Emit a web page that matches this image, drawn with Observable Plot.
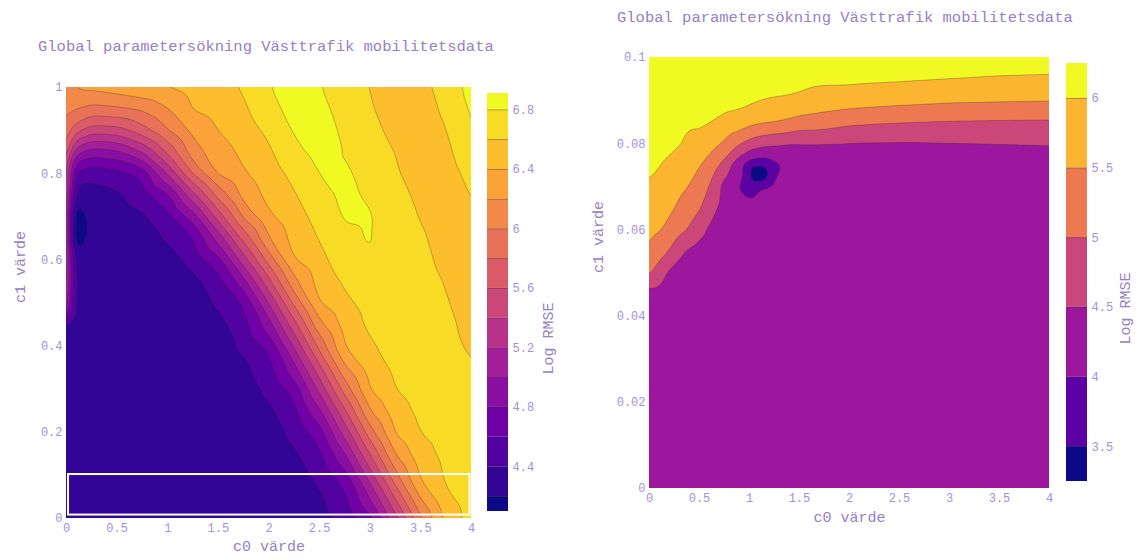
<!DOCTYPE html>
<html>
<head>
<meta charset="utf-8">
<script src="https://cdn.jsdelivr.net/npm/d3@7"></script>
<script src="https://cdn.jsdelivr.net/npm/@observablehq/plot@0.6"></script>
<style>
  body { margin: 0; background: #ffffff; }
  #wrap { position: relative; width: 1139px; height: 560px; overflow: hidden;
          font-family: 'Liberation Mono', 'Courier New', monospace; }
  .abs { position: absolute; }
  .title { font-size: 15.5px; color: #9680c6; white-space: nowrap; line-height: 18px; }
</style>
</head>
<body>
<div id="wrap"></div>
<script>
// ---------------- DATA ----------------
const titleText = "Global parametersökning Västtrafik mobilitetsdata";
const xLabel = "c0 värde";
const yLabel = "c1 värde";
const barLabel = "Log RMSE";

const xTicks = [0, 0.5, 1, 1.5, 2, 2.5, 3, 3.5, 4];

// Left panel: full search, c0 in [0,4], c1 in [0,1]
const leftC0 = [0, 0.065, 0.25, 0.5, 0.75, 1, 1.25, 1.5, 1.75, 2, 2.25, 2.5, 2.75, 3, 3.25, 3.5, 3.75, 4];
const leftC1 = [1, 0.95, 0.9, 0.85, 0.8, 0.75, 0.7, 0.65, 0.6, 0.55, 0.5, 0.45, 0.4, 0.35, 0.3, 0.25, 0.2, 0.15, 0.1, 0.05, 0];
const leftZ = [
  [6.10, 6.21, 6.25, 6.30, 6.36, 6.41, 6.47, 6.54, 6.62, 6.79, 6.90, 6.81, 6.70, 6.595, 6.47, 6.53, 6.70, 6.86],
  [6.05, 6.02, 5.93, 5.97, 6.033, 6.195, 6.416, 6.47, 6.57, 6.733, 6.87, 6.85, 6.73, 6.62, 6.50, 6.52, 6.64, 6.83],
  [5.95, 5.70, 5.49, 5.52, 5.72, 5.995, 6.26, 6.405, 6.51, 6.64, 6.82, 6.87, 6.77, 6.65, 6.55, 6.47, 6.595, 6.79],
  [5.80, 5.10, 4.89, 4.95, 5.205, 5.64, 6.117, 6.31, 6.445, 6.57, 6.746, 6.865, 6.795, 6.69, 6.595, 6.49, 6.56, 6.72],
  [5.65, 4.55, 4.47, 4.52, 4.646, 5.205, 5.82, 6.235, 6.38, 6.51, 6.653, 6.81, 6.83, 6.73, 6.62, 6.52, 6.52, 6.66],
  [5.60, 4.30, 4.30, 4.365, 4.505, 4.74, 5.325, 5.88, 6.275, 6.453, 6.585, 6.733, 6.84, 6.77, 6.66, 6.56, 6.50, 6.61],
  [5.60, 3.92, 4.30, 4.30, 4.365, 4.53, 4.89, 5.49, 6.04, 6.37, 6.526, 6.665, 6.82, 6.82, 6.68, 6.59, 6.53, 6.57],
  [5.60, 3.94, 4.30, 4.30, 4.30, 4.42, 4.58, 5.075, 5.667, 6.205, 6.47, 6.61, 6.76, 6.815, 6.70, 6.62, 6.54, 6.51],
  [5.55, 4.28, 4.30, 4.30, 4.30, 4.31, 4.477, 4.72, 5.31, 5.89, 6.405, 6.544, 6.71, 6.79, 6.72, 6.64, 6.56, 6.52],
  [5.50, 4.34, 4.30, 4.30, 4.30, 4.30, 4.34, 4.526, 4.93, 5.55, 6.156, 6.48, 6.63, 6.72, 6.72, 6.66, 6.59, 6.53],
  [5.30, 4.33, 4.30, 4.30, 4.30, 4.30, 4.30, 4.43, 4.62, 5.21, 5.85, 6.405, 6.56, 6.67, 6.72, 6.68, 6.61, 6.54],
  [4.35, 4.30, 4.30, 4.30, 4.30, 4.30, 4.30, 4.34, 4.52, 4.91, 5.525, 6.156, 6.487, 6.64, 6.70, 6.68, 6.63, 6.56],
  [4.30, 4.30, 4.30, 4.30, 4.30, 4.30, 4.30, 4.30, 4.436, 4.644, 5.225, 5.875, 6.413, 6.58, 6.66, 6.68, 6.64, 6.58],
  [4.30, 4.30, 4.30, 4.30, 4.30, 4.30, 4.30, 4.30, 4.35, 4.53, 4.93, 5.55, 6.18, 6.50, 6.64, 6.69, 6.66, 6.61],
  [4.30, 4.30, 4.30, 4.30, 4.30, 4.30, 4.30, 4.30, 4.30, 4.443, 4.667, 5.25, 5.90, 6.42, 6.605, 6.68, 6.69, 6.65],
  [4.30, 4.30, 4.30, 4.30, 4.30, 4.30, 4.30, 4.30, 4.30, 4.36, 4.536, 4.956, 5.575, 6.21, 6.52, 6.65, 6.68, 6.70],
  [4.30, 4.30, 4.30, 4.30, 4.30, 4.30, 4.30, 4.30, 4.30, 4.30, 4.45, 4.69, 5.275, 5.925, 6.43, 6.61, 6.66, 6.72],
  [4.30, 4.30, 4.30, 4.30, 4.30, 4.30, 4.30, 4.30, 4.30, 4.30, 4.365, 4.54, 4.98, 5.61, 6.22, 6.54, 6.65, 6.72],
  [4.30, 4.30, 4.30, 4.30, 4.30, 4.30, 4.30, 4.30, 4.30, 4.30, 4.30, 4.457, 4.71, 5.31, 5.95, 6.44, 6.63, 6.72],
  [4.30, 4.30, 4.30, 4.30, 4.30, 4.30, 4.30, 4.30, 4.30, 4.30, 4.30, 4.37, 4.55, 5.01, 5.63, 6.24, 6.57, 6.70],
  [4.30, 4.30, 4.30, 4.30, 4.30, 4.30, 4.30, 4.30, 4.30, 4.30, 4.30, 4.33, 4.464, 4.73, 5.325, 5.975, 6.46, 6.68]
];
const leftLevels = [4.0, 4.2, 4.4, 4.6, 4.8, 5.0, 5.2, 5.4, 5.6, 5.8, 6.0, 6.2, 6.4, 6.6, 6.8];
const leftRange = [4.1, 6.91];
const leftBarTicks = [4.4, 4.8, 5.2, 5.6, 6, 6.4, 6.8];
const leftYTicks = [0, 0.2, 0.4, 0.6, 0.8, 1];
const zoomBox = [{c0a: 0.02, c0b: 3.985, c1a: 0.008, c1b: 0.102}];

// Right panel: zoom c0 in [0,4], c1 in [0,0.1]
const rightC0 = [0, 0.125, 0.25, 0.375, 0.5, 0.625, 0.75, 0.875, 1, 1.125, 1.25, 1.5, 2, 2.5, 3, 3.5, 4];
const rightC1 = [0.1, 0.095, 0.09, 0.085, 0.08, 0.075, 0.07, 0.065, 0.06, 0.055, 0.05, 0.045, 0.04, 0.02, 0];
const rightZ = [
  [6.25, 6.235, 6.22, 6.21, 6.20, 6.19, 6.18, 6.17, 6.16, 6.15, 6.14, 6.15, 6.14, 6.12, 6.10, 6.09, 6.08],
  [6.22, 6.19, 6.18, 6.17, 6.17, 6.15, 6.15, 6.13, 6.12, 6.08, 6.10, 6.12, 6.10, 6.06, 6.02, 5.99, 5.98],
  [6.19, 6.14, 6.14, 6.12, 6.14, 6.09, 6.12, 6.10, 6.08, 6.01, 5.98, 5.92, 5.73, 5.64, 5.57, 5.54, 5.52],
  [6.16, 6.10, 6.10, 6.06, 6.10, 6.005, 5.90, 5.85, 5.64, 5.56, 5.51, 5.32, 5.11, 5.02, 4.97, 4.95, 4.94],
  [6.13, 6.05, 6.06, 5.96, 5.83, 5.63, 5.44, 5.09, 4.83, 4.67, 4.58, 4.48, 4.46, 4.45, 4.47, 4.49, 4.51],
  [6.10, 5.995, 5.87, 5.74, 5.53, 5.24, 4.81, 4.21, 3.70, 3.65, 3.90, 4.35, 4.35, 4.35, 4.35, 4.35, 4.35],
  [5.95, 5.83, 5.69, 5.52, 5.29, 4.90, 4.32, 4.00, 3.85, 4.02, 4.12, 4.30, 4.30, 4.30, 4.30, 4.30, 4.30],
  [5.79, 5.67, 5.51, 5.26, 5.05, 4.65, 4.30, 4.12, 4.10, 4.16, 4.18, 4.27, 4.28, 4.28, 4.28, 4.28, 4.28],
  [5.63, 5.505, 5.22, 5.005, 4.62, 4.40, 4.28, 4.21, 4.18, 4.19, 4.20, 4.26, 4.27, 4.27, 4.27, 4.27, 4.27],
  [5.43, 5.16, 4.83, 4.44, 4.29, 4.29, 4.27, 4.23, 4.21, 4.20, 4.21, 4.25, 4.26, 4.26, 4.26, 4.26, 4.26],
  [5.07, 4.59, 4.30, 4.30, 4.27, 4.27, 4.26, 4.24, 4.22, 4.21, 4.22, 4.25, 4.25, 4.25, 4.25, 4.25, 4.25],
  [4.27, 4.27, 4.27, 4.27, 4.26, 4.26, 4.25, 4.24, 4.23, 4.22, 4.23, 4.25, 4.25, 4.25, 4.25, 4.25, 4.25],
  [4.25, 4.25, 4.25, 4.25, 4.25, 4.25, 4.24, 4.24, 4.23, 4.23, 4.23, 4.24, 4.24, 4.24, 4.24, 4.24, 4.24],
  [4.22, 4.22, 4.22, 4.22, 4.22, 4.22, 4.22, 4.22, 4.22, 4.22, 4.22, 4.22, 4.22, 4.22, 4.22, 4.22, 4.22],
  [4.20, 4.20, 4.20, 4.20, 4.20, 4.20, 4.20, 4.20, 4.20, 4.20, 4.20, 4.20, 4.20, 4.20, 4.20, 4.20, 4.20]
];
const rightDip = [{c0: 1.07, c1: 0.0733, z: 2.7}];
const rightLevels = [3.0, 3.5, 4.0, 4.5, 5.0, 5.5, 6.0];
const rightRange = [3.25, 6.25];
const rightBarTicks = [3.5, 4, 4.5, 5, 5.5, 6];
const rightYTicks = [0, 0.02, 0.04, 0.06, 0.08, 0.1];

// Plotly "Plasma" colour stops
const plasmaStops = ["#0d0887", "#46039f", "#7201a8", "#9c179e", "#bd3786", "#d8576b", "#ed7953", "#fb9f3a", "#fdca26", "#f0f921"];

// ---------------- BUILD ----------------
const plasma = d3.piecewise(d3.interpolateRgb, plasmaStops);
const FONT = "'Liberation Mono', 'Courier New', monospace";
const TITLE_COLOR = "#9680c6";
const TICK_COLOR = "#a58fd8";
const fmt = d => String(d);

// Grid samples as points; the outermost rows/columns are repeated just outside
// the frame so that the triangulated surface covers the whole (clipped) frame.
function gridPoints(cols, rows, Z, padX, padY) {
  const cc = [cols[0] - padX, ...cols, cols[cols.length - 1] + padX];
  const rr = [rows[0] + padY, ...rows, rows[rows.length - 1] - padY];
  const clampI = (i, n) => Math.max(0, Math.min(n - 1, i - 1));
  const pts = [];
  rr.forEach((c1, r) => cc.forEach((c0, c) => {
    pts.push({c0, c1, z: Z[clampI(r, rows.length)][clampI(c, cols.length)]});
  }));
  return pts;
}
function bands(levels, range) {
  return levels.map((t, i) => ({
    t,
    lo: Math.max(t, range[0]),
    hi: i < levels.length - 1 ? levels[i + 1] : range[1]
  }));
}

const wrap = document.getElementById("wrap");
function place(node, left, top) {
  const d = document.createElement("div");
  d.className = "abs";
  d.style.left = left + "px";
  d.style.top = top + "px";
  d.appendChild(node);
  wrap.appendChild(d);
  return d;
}
function title(text, left, top) {
  const d = document.createElement("div");
  d.className = "abs title";
  d.style.left = left + "px";
  d.style.top = top + "px";
  d.textContent = text;
  wrap.appendChild(d);
}

function contourPanel({cols, rows, Z, extraPts = [], levels, domainY, yTicks, width, mL, mR, mT, mB, yLabelDx, xLabelDy, blur, extra = []}) {
  const padX = 0.12, padY = (domainY[1] - domainY[0]) * 0.03;
  const points = gridPoints(cols, rows, Z, padX, padY).concat(extraPts);
  return Plot.plot({
    width, height: 560,
    marginLeft: mL, marginRight: mR, marginTop: mT, marginBottom: mB,
    style: {fontFamily: FONT, background: "transparent", color: TICK_COLOR, overflow: "visible"},
    x: {domain: [0, 4]},
    y: {domain: domainY},
    color: {type: "linear", domain: [levels[0], levels[levels.length - 1]], interpolate: plasma},
    marks: [
      Plot.contour(points, {
        x: "c0", y: "c1", fill: "z",
        interpolate: "barycentric",
        thresholds: levels,
        x1: -padX, x2: 4 + padX, y1: domainY[0] - padY, y2: domainY[1] + padY,
        pixelSize: 1, blur,
        stroke: "#2a2030", strokeOpacity: 0.5, strokeWidth: 0.6,
        clip: true
      }),
      ...extra,
      Plot.axisX({ticks: xTicks, tickFormat: fmt, tickSize: 0, tickPadding: 5, fontSize: 12, label: null, color: TICK_COLOR}),
      Plot.axisY({ticks: yTicks, tickFormat: fmt, tickSize: 0, tickPadding: 4, fontSize: 12, label: null, color: TICK_COLOR}),
      Plot.text([xLabel], {text: d => d, frameAnchor: "bottom", dy: xLabelDy, fontSize: 15, fill: TITLE_COLOR}),
      Plot.text([yLabel], {text: d => d, frameAnchor: "left", dx: -yLabelDx, rotate: -90, fontSize: 15, fill: TITLE_COLOR})
    ]
  });
}

function colorbar({levels, range, ticks, mT, mB, mR, labelDx}) {
  return Plot.plot({
    width: 7 + 21 + mR, height: 560,
    marginLeft: 7, marginRight: mR, marginTop: mT, marginBottom: mB,
    style: {fontFamily: FONT, background: "transparent", color: TICK_COLOR, overflow: "visible"},
    x: {domain: [0, 1], axis: null},
    y: {domain: range, axis: null},
    color: {type: "linear", domain: [levels[0], levels[levels.length - 1]], interpolate: plasma},
    marks: [
      Plot.rect(bands(levels, range), {x1: 0, x2: 1, y1: "lo", y2: "hi", fill: "t"}),
      Plot.ruleY(levels.filter(l => l > range[0] && l < range[1]), {stroke: "#2a2030", strokeOpacity: 0.5, strokeWidth: 0.7}),
      Plot.axisY({anchor: "right", ticks, tickFormat: fmt, tickSize: 0, tickPadding: 4, fontSize: 12, label: null, color: TICK_COLOR}),
      Plot.text([barLabel], {text: d => d, frameAnchor: "right", dx: labelDx, rotate: -90, fontSize: 15, fill: TITLE_COLOR})
    ]
  });
}

// Left panel
const leftPlot = contourPanel({
  cols: leftC0, rows: leftC1, Z: leftZ,
  levels: leftLevels, domainY: [0, 1], yTicks: leftYTicks,
  width: 480, mL: 66, mR: 9, mT: 87, mB: 42, yLabelDx: 46, xLabelDy: 32, blur: 4,
  extra: [Plot.rect(zoomBox, {x1: "c0a", x2: "c0b", y1: "c1a", y2: "c1b", fill: "none", stroke: "white", strokeWidth: 2})]
});
place(leftPlot, 0, 0);
place(colorbar({levels: leftLevels, range: leftRange, ticks: leftBarTicks, mT: 93, mB: 49, mR: 62, labelDx: 40}), 480, 0);
title(titleText, 38, 38);

// Right panel
const rightPlot = contourPanel({
  cols: rightC0, rows: rightC1, Z: rightZ, extraPts: rightDip,
  levels: rightLevels, domainY: [0, 0.1], yTicks: rightYTicks,
  width: 489, mL: 79, mR: 10, mT: 57, mB: 72, yLabelDx: 51, xLabelDy: 33, blur: 3
});
place(rightPlot, 570, 0);
place(colorbar({levels: rightLevels, range: rightRange, ticks: rightBarTicks, mT: 63, mB: 79, mR: 52, labelDx: 38}), 1059, 0);
title(titleText, 617, 9);
</script>
</body>
</html>
